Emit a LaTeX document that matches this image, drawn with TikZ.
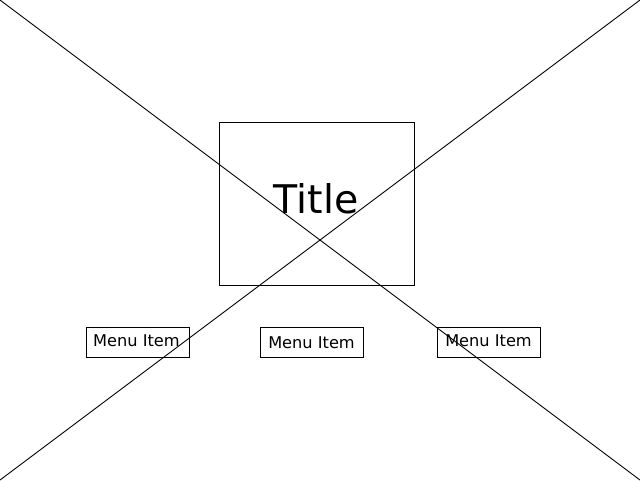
\documentclass[tikz,border=0pt]{standalone}
\usepackage{fontspec}
\setmainfont{DejaVu Sans}
\begin{document}
\begin{tikzpicture}[x=1pt,y=-1pt,
  frame/.style={draw=black,line width=0.9pt,inner sep=0pt,anchor=north west},
  menutext/.style={font=\fontsize{16.2}{18}\selectfont,inner sep=0pt},
  titletext/.style={font=\fontsize{39.5}{42}\selectfont,inner sep=0pt}]
\useasboundingbox (0,0) rectangle (640,480);
\coordinate (tl) at (0,0);
\coordinate (tr) at (640,0);
\coordinate (bl) at (0,480);
\coordinate (br) at (640,480);
\node[frame,minimum width=195pt,minimum height=163pt] (titlebox) at (219,122) {};
\node[titletext] (title) at (316,199) {Title};
\node[frame,minimum width=103pt,minimum height=30pt] (m1) at (86,326.5) {};
\node[frame,minimum width=103pt,minimum height=30pt] (m2) at (260,326.5) {};
\node[frame,minimum width=103pt,minimum height=30pt] (m3) at (437,326.5) {};
\node[menutext] (t1) at (136.5,340.5) {Menu Item};
\node[menutext] (t2) at (311.5,342.5) {Menu Item};
\node[menutext] (t3) at (488.5,340.5) {Menu Item};
\draw[line width=0.9pt] (tl) -- (br);
\draw[line width=0.9pt] (tr) -- (bl);
\end{tikzpicture}
\end{document}
